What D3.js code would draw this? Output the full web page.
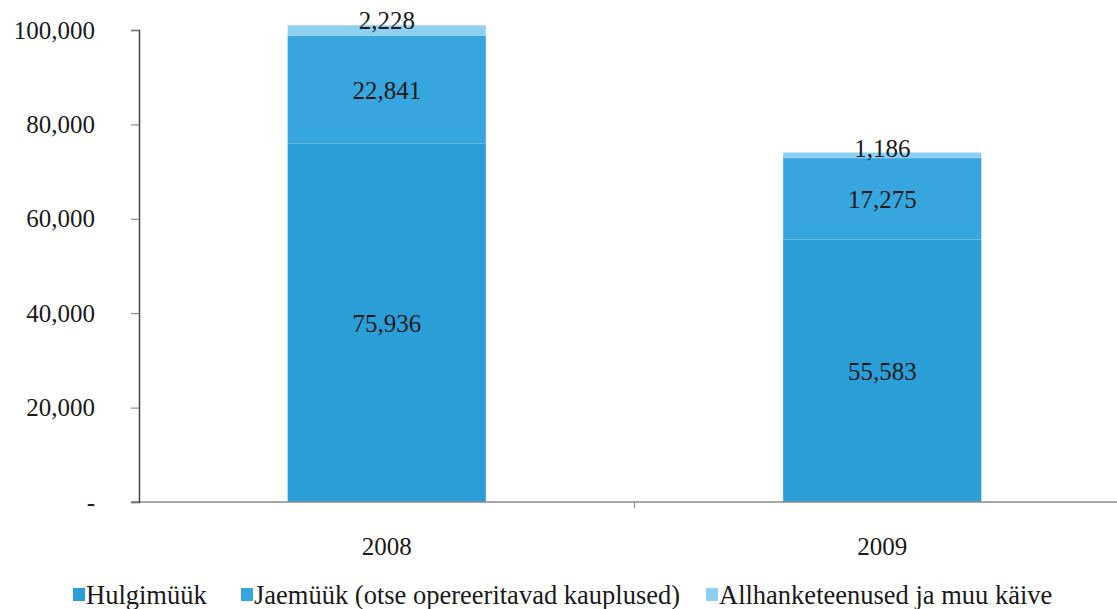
<!DOCTYPE html>
<html>
<head>
<meta charset="utf-8">
<script src="https://cdn.jsdelivr.net/npm/d3@7"></script>
<style>
    body { margin: 0; background: #fff; }
    svg text { font-family: "Liberation Serif", "Times New Roman", "DejaVu Serif", serif; fill: #1a1a1a; }
</style>
</head>
<body>
<div id="chart"></div>
<script>
// andmed
const years = ["2008", "2009"];
const seriesNames = ["Hulgimüük", "Jaemüük (otse opereeritavad kauplused)", "Allhanketeenused ja muu käive"];
const hulgimyyk = [75936, 55583];
const jaemyyk = [22841, 17275];
const allhange = [2228, 1186];
const yTicks = [0, 20000, 40000, 60000, 80000, 100000];

const colors = ["#2c9ed7", "#37a6de", "#8ed0f1"];

const width = 1117, height = 609;
const margin = { top: 30, left: 139, bottom: 107 };
const plotRight = 1130;

const svg = d3.select("#chart").append("svg")
    .attr("width", width)
    .attr("height", height);

const x = d3.scaleBand()
    .domain(years)
    .range([margin.left, plotRight])
    .paddingInner(0)
    .paddingOuter(0);

const y = d3.scaleLinear()
    .domain([0, 100000])
    .range([height - margin.bottom, margin.top]);

const rows = years.map((yr, i) => ({
    year: yr,
    [seriesNames[0]]: hulgimyyk[i],
    [seriesNames[1]]: jaemyyk[i],
    [seriesNames[2]]: allhange[i]
}));

const stacked = d3.stack().keys(seriesNames)(rows);

const barW = x.bandwidth() * 0.4;

// tulbad
stacked.forEach((s, si) => {
    svg.append("g")
        .selectAll("rect")
        .data(s)
        .join("rect")
        .attr("x", d => x(d.data.year) + (x.bandwidth() - barW) / 2)
        .attr("width", barW)
        .attr("y", d => y(d[1]))
        .attr("height", d => y(d[0]) - y(d[1]))
        .attr("fill", colors[si]);
});

// x telg
svg.append("line")
    .attr("x1", margin.left - 8).attr("x2", width)
    .attr("y1", y(0)).attr("y2", y(0))
    .attr("stroke", "#8a8a8a").attr("stroke-width", 1.5);
svg.append("line")
    .attr("x1", x("2009")).attr("x2", x("2009"))
    .attr("y1", y(0)).attr("y2", y(0) + 6)
    .attr("stroke", "#8a8a8a");

// y telg
const yAxis = d3.axisLeft(y)
    .tickValues(yTicks)
    .tickSize(8)
    .tickPadding(36)
    .tickFormat(d => d === 0 ? "-" : d3.format(",")(d));

const yg = svg.append("g")
    .attr("transform", `translate(${margin.left},0)`)
    .call(yAxis)
    .attr("font-family", null);
yg.select(".domain").attr("stroke", "#444").attr("stroke-width", 1.5);
yg.selectAll(".tick line").attr("stroke", "#777");
yg.selectAll(".tick text")
    .attr("font-size", 25)
    .attr("fill", "#1a1a1a");

// aastad
svg.append("g")
    .selectAll("text")
    .data(years)
    .join("text")
    .attr("x", d => x(d) + x.bandwidth() / 2)
    .attr("y", 555)
    .attr("text-anchor", "middle")
    .attr("font-size", 25)
    .text(d => d);

// väärtused
const fmt = d3.format(",");
stacked.forEach((s, si) => {
    svg.append("g")
        .selectAll("text")
        .data(s)
        .join("text")
        .attr("x", d => x(d.data.year) + x.bandwidth() / 2)
        .attr("y", d => si === 2 ? y(d[1]) + 4 : y((d[0] + d[1]) / 2) + 9)
        .attr("text-anchor", "middle")
        .attr("font-size", 25)
        .text(d => fmt(d[1] - d[0]));
});

// legend
const legendX = [73, 241, 706];
const legend = svg.append("g");
seriesNames.forEach((name, i) => {
    legend.append("rect")
        .attr("x", legendX[i]).attr("y", 588)
        .attr("width", 12).attr("height", 13)
        .attr("fill", colors[i]);
    legend.append("text")
        .attr("x", legendX[i] + 13).attr("y", 604)
        .attr("font-size", 26.5)
        .text(name);
});
</script>
</body>
</html>
